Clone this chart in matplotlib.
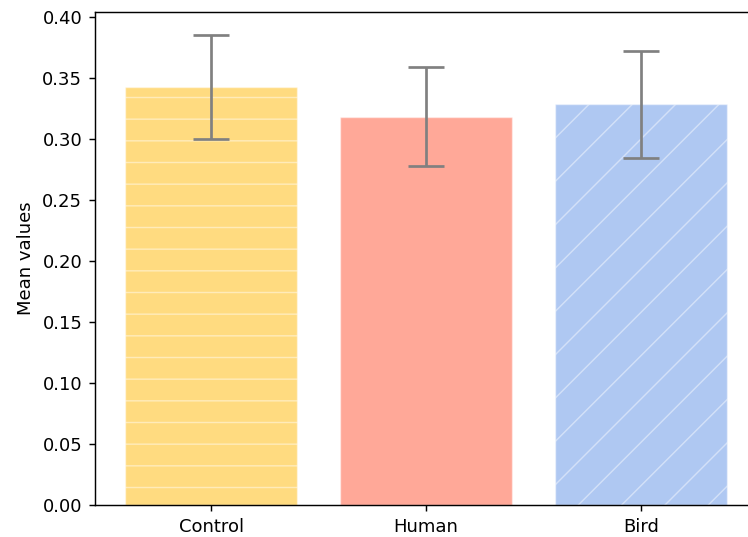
import matplotlib
matplotlib.use("Agg")
import matplotlib.pyplot as plt

categories = ["Control", "Human", "Bird"]
means = [0.342, 0.318, 0.328]
errors = [0.0425, 0.0405, 0.0435]
colors = ["#FFDB80", "#FFA898", "#AFC8F2"]
hatches = ["-", "", "/"]

plt.rcParams["hatch.linewidth"] = 0.8

dpi = 130
fig = plt.figure(figsize=(748 / dpi, 537 / dpi), dpi=dpi)
ax = fig.add_axes([95 / 748, 32 / 537, 662 / 748, 493 / 537])

x = list(range(len(categories)))
bars = ax.bar(x, means, width=0.8, color=colors, edgecolor=(1, 1, 1, 0.45),
              linewidth=0.8, yerr=errors, capsize=10,
              error_kw=dict(ecolor="gray", elinewidth=1.5, capthick=1.5))
for b, h in zip(bars, hatches):
    b.set_hatch(h)

ax.set_xticks(x)
ax.set_xticklabels(categories)
ax.set_ylabel("Mean values")

fig.savefig("out.png", dpi=dpi)
